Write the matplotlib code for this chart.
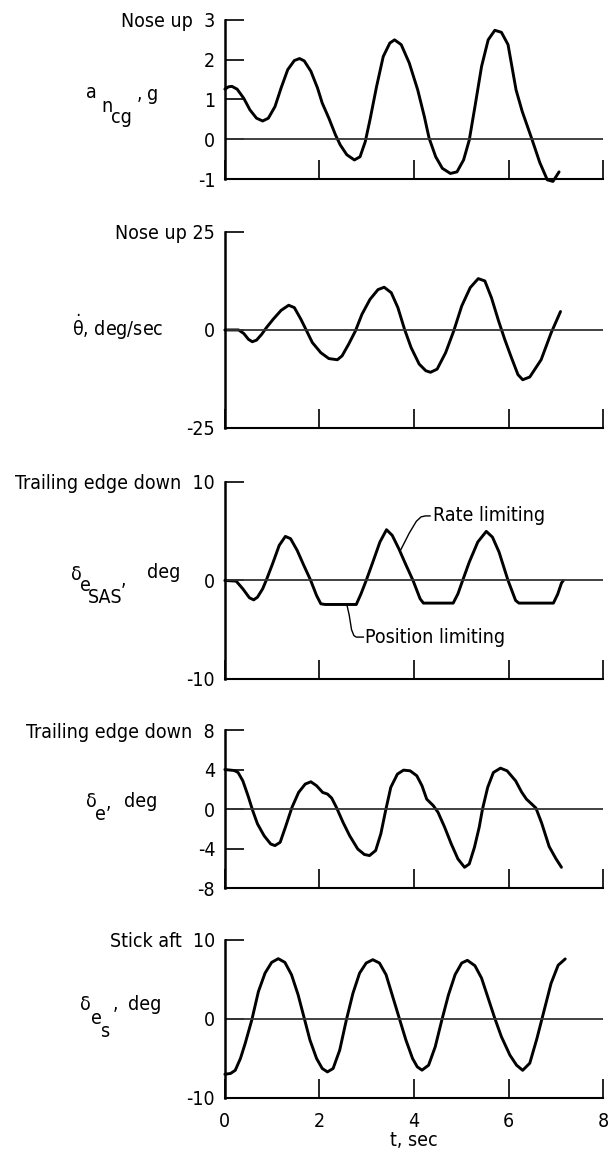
import matplotlib
matplotlib.use("Agg")
import matplotlib.pyplot as plt

plt.rcParams['font.family'] = ['DejaVu Sans']
plt.rcParams['font.stretch'] = 'condensed'
plt.rcParams['mathtext.fontset'] = 'dejavusans'

# normal acceleration at cg, g
t_acc = [0, 0.08, 0.15, 0.26, 0.40, 0.53, 0.67, 0.80, 0.92, 1.06, 1.19, 1.33, 1.47, 1.58,
         1.68, 1.82, 1.96, 2.06, 2.20, 2.34, 2.44, 2.58, 2.74, 2.86, 2.97, 3.07, 3.21, 3.35,
         3.49, 3.59, 3.73, 3.90, 4.08, 4.22, 4.32, 4.46, 4.60, 4.77, 4.91, 5.05, 5.17, 5.29,
         5.43, 5.57, 5.71, 5.85, 5.99, 6.16, 6.29, 6.49, 6.66, 6.82, 6.94, 7.07]
acc = [1.26, 1.32, 1.33, 1.26, 1.03, 0.74, 0.53, 0.46, 0.53, 0.82, 1.29, 1.75, 1.98, 2.03,
       1.97, 1.71, 1.29, 0.91, 0.53, 0.11, -0.14, -0.39, -0.52, -0.44, -0.06, 0.49, 1.33, 2.08,
       2.42, 2.50, 2.38, 1.92, 1.24, 0.57, 0.03, -0.44, -0.73, -0.86, -0.82, -0.52, -0.02, 0.82,
       1.83, 2.50, 2.74, 2.69, 2.38, 1.24, 0.70, 0.02, -0.58, -1.02, -1.06, -0.82]

# pitch rate, deg/sec
t_q = [0, 0.29, 0.40, 0.50, 0.58, 0.67, 0.78, 0.88, 1.02, 1.19, 1.35, 1.47, 1.61, 1.72,
       1.85, 2.03, 2.20, 2.38, 2.48, 2.62, 2.76, 2.90, 3.07, 3.24, 3.37, 3.52, 3.66, 3.80,
       3.94, 4.11, 4.25, 4.35, 4.49, 4.67, 4.84, 5.01, 5.19, 5.36, 5.50, 5.64, 5.79, 5.92,
       6.06, 6.20, 6.30, 6.45, 6.69, 6.90, 7.10]
q = [0, 0, -0.9, -2.4, -3.0, -2.6, -1.1, 0.6, 2.7, 5.0, 6.3, 5.7, 2.7, 0,
     -3.2, -5.8, -7.3, -7.6, -6.6, -3.6, -0.3, 4.0, 7.8, 10.3, 10.9, 9.5, 5.7, 0.2,
     -4.5, -8.7, -10.4, -10.8, -10.0, -5.8, -0.3, 6.1, 10.8, 13.1, 12.5, 8.2, 2.3, -2.4,
     -7.0, -11.4, -12.7, -12.0, -7.6, -0.8, 4.7]

# SAS elevator command, deg
t_sas = [0, 0.24, 0.38, 0.52, 0.61, 0.69, 0.80, 0.88, 1.01, 1.15, 1.28, 1.39, 1.53, 1.67,
         1.81, 1.94, 2.03, 2.12, 2.78, 2.88, 2.99, 3.13, 3.28, 3.42, 3.54, 3.68, 3.82, 3.98,
         4.13, 4.20, 4.83, 4.93, 5.03, 5.17, 5.35, 5.53, 5.66, 5.80, 5.99, 6.15, 6.22, 6.95,
         7.04, 7.12, 7.16]
sas = [0, -0.07, -0.85, -1.76, -1.97, -1.7, -0.85, 0.07, 1.7, 3.56, 4.47, 4.24, 3.05, 1.53,
       0.07, -1.53, -2.37, -2.44, -2.44, -1.36, 0, 1.86, 3.9, 5.15, 4.58, 3.22, 1.69, 0,
       -1.86, -2.3, -2.3, -1.36, 0, 1.86, 3.9, 4.98, 4.4, 2.88, 0, -2.03, -2.3, -2.3,
       -1.4, -0.27, 0]

# elevator deflection, deg
t_elev = [0, 0.20, 0.28, 0.38, 0.49, 0.59, 0.69, 0.83, 0.97, 1.06, 1.17, 1.28, 1.42, 1.56,
          1.70, 1.82, 1.94, 2.07, 2.17, 2.26, 2.36, 2.50, 2.64, 2.81, 2.95, 3.06, 3.19, 3.30,
          3.40, 3.51, 3.65, 3.78, 3.92, 4.06, 4.17, 4.27, 4.41, 4.51, 4.65, 4.79, 4.93, 5.07,
          5.17, 5.28, 5.38, 5.45, 5.56, 5.68, 5.83, 5.97, 6.15, 6.28, 6.38, 6.47, 6.58, 6.70,
          6.86, 7.00, 7.12]
elev = [4.0, 3.9, 3.7, 2.86, 1.35, -0.17, -1.5, -2.7, -3.54, -3.7, -3.37, -1.85, 0.17, 1.68,
        2.53, 2.76, 2.36, 1.68, 1.52, 1.11, 0.17, -1.35, -2.7, -4.04, -4.6, -4.71, -4.2, -2.5,
        -0.17, 2.2, 3.54, 3.94, 3.87, 3.37, 2.36, 1.0, 0.34, -0.34, -1.85, -3.54, -5.05, -5.9,
        -5.56, -3.87, -1.85, 0, 2.2, 3.7, 4.14, 3.87, 2.86, 1.7, 1.0, 0.6, 0.1, -1.4,
        -3.8, -5.0, -5.9]

# stick input, deg
t_stick = [0, 0.12, 0.22, 0.33, 0.43, 0.57, 0.71, 0.85, 0.99, 1.13, 1.27, 1.41, 1.55, 1.68,
           1.80, 1.94, 2.06, 2.17, 2.29, 2.43, 2.57, 2.71, 2.85, 2.99, 3.13, 3.27, 3.41, 3.55,
           3.69, 3.83, 3.97, 4.07, 4.17, 4.31, 4.45, 4.59, 4.73, 4.87, 5.01, 5.13, 5.29, 5.43,
           5.57, 5.71, 5.85, 6.03, 6.17, 6.30, 6.45, 6.60, 6.75, 6.90, 7.05, 7.20]
stick = [-7.0, -6.9, -6.5, -5.0, -3.1, -0.13, 3.47, 5.8, 7.16, 7.63, 7.16, 5.6, 3.05, 0.08,
         -2.67, -5.0, -6.27, -6.7, -6.27, -3.94, -0.13, 3.26, 5.8, 7.08, 7.5, 7.08, 5.6, 2.84,
         0.08, -2.67, -5.0, -6.06, -6.48, -5.85, -3.52, -0.13, 3.05, 5.6, 7.08, 7.42, 6.74, 5.17,
         2.63, 0.08, -2.25, -4.58, -5.85, -6.5, -5.6, -2.5, 1.0, 4.5, 6.8, 7.6]

x_ticks = [0, 2, 4, 6, 8]

panels = [
    (t_acc, acc, (-1, 3), [-1, 0, 1, 2, 3], ['-1', '0', '1', '2', 'Nose up  3']),
    (t_q, q, (-25, 25), [-25, 0, 25], ['-25', '0', 'Nose up 25']),
    (t_sas, sas, (-10, 10), [-10, 0, 10], ['-10', '0', 'Trailing edge down  10']),
    (t_elev, elev, (-8, 8), [-8, -4, 0, 4, 8], ['-8', '-4', '0', '4', 'Trailing edge down  8']),
    (t_stick, stick, (-10, 10), [-10, 0, 10], ['-10', '0', 'Stick aft  10']),
]

# axes rectangles in figure fractions: left, bottom, width, height
rects = [
    (0.368, 0.8458, 0.619, 0.1370),
    (0.368, 0.6314, 0.619, 0.1688),
    (0.368, 0.4152, 0.619, 0.1697),
    (0.368, 0.2351, 0.619, 0.1361),
    (0.368, 0.0543, 0.619, 0.1361),
]

FS = 14
W, H = 611, 1161
fig = plt.figure(figsize=(W / 100, H / 100), dpi=100)


def put(x, y, s, size=FS):
    # x, y in pixels from the top-left corner, text sits on its baseline
    fig.text(x / W, 1 - y / H, s, fontsize=size, ha='left', va='baseline')


axes = []
for i, (rect, p) in enumerate(zip(rects, panels)):
    tt, vv, ylim, yt, ytl = p
    ax = fig.add_axes(rect)
    ax.plot(tt, vv, color='black', lw=2.1, clip_on=False,
            solid_capstyle='round', solid_joinstyle='round')
    ax.axhline(0, color='#333333', lw=1.3)
    ax.set_xlim(0, 8)
    ax.set_ylim(*ylim)
    for s in ['top', 'right']:
        ax.spines[s].set_visible(False)
    ax.spines['left'].set_linewidth(1.8)
    ax.spines['bottom'].set_linewidth(1.5)
    ax.set_xticks(x_ticks)
    ax.set_yticks(yt)
    ax.set_yticklabels(ytl)
    ax.tick_params(direction='in', length=14, width=1.2, labelsize=FS, pad=7)
    ax.tick_params(axis='x', pad=10)
    if i < 4:
        ax.tick_params(axis='x', labelbottom=False)
    axes.append(ax)

axes[-1].set_xlabel('t, sec', fontsize=FS, labelpad=0)

# variable names, typed with stepped subscripts
put(86, 98, 'a')
put(101, 112, 'n')
put(111, 123, 'cg')
put(137, 100, ',')
put(147, 100, 'g')

put(72, 336, r'$\mathrm{\dot{\theta}}$, deg/sec')

put(71, 580, 'δ')
put(80, 591, 'e')
put(88, 603, 'SAS')
put(121, 586, ',')
put(147, 578, 'deg')

put(86, 807, 'δ')
put(95, 820, 'e')
put(106, 809, ',')
put(124, 807, 'deg')

put(80, 1010, 'δ')
put(91, 1024, 'e')
put(100, 1037, 's')
put(113, 1010, ',')
put(128, 1010, 'deg')

# leader lines for the SAS panel notes
ax3 = axes[2]
ax3.plot([3.72, 3.90, 4.05, 4.15, 4.24, 4.34], [3.1, 4.8, 6.0, 6.45, 6.55, 6.55],
         color='black', lw=1.0)
ax3.text(4.40, 6.55, 'Rate limiting', fontsize=FS, va='center', ha='left')
ax3.plot([2.58, 2.63, 2.68, 2.73, 2.78, 2.93], [-2.45, -3.5, -5.0, -5.6, -5.75, -5.75],
         color='black', lw=1.0)
ax3.text(2.96, -5.75, 'Position limiting', fontsize=FS, va='center', ha='left')

fig.savefig('out.png', dpi=100)
